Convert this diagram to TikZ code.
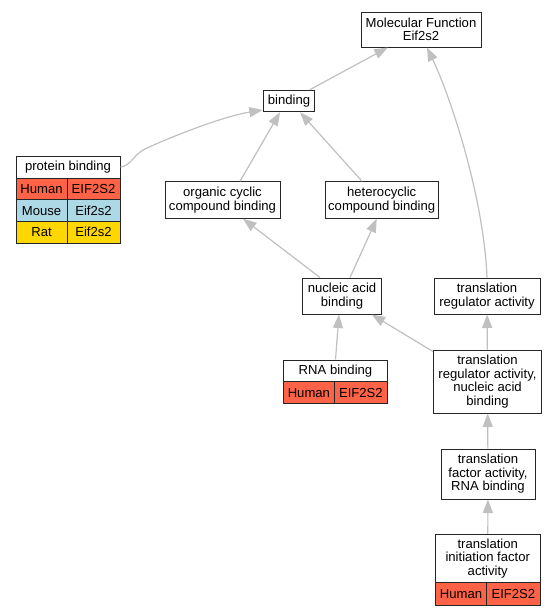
\documentclass[tikz,border=0pt]{standalone}
\usepackage{fontspec}
\setmainfont{Liberation Sans}
\usetikzlibrary{arrows.meta}
\definecolor{gohuman}{RGB}{255, 99, 71}
\definecolor{gomouse}{RGB}{173, 216, 230}
\definecolor{gorat}{RGB}{255, 215, 0}
\definecolor{goedge}{RGB}{192, 192, 192}
\newcommand{\gofont}{\fontsize{13.1}{13.6}\selectfont}

\begin{document}
\begin{tikzpicture}[x=1pt,y=-1pt,
    term/.style={draw=black!85, line width=1pt, fill=white, align=center, inner sep=1pt, font=\gofont},
    cell/.style={term, fill=#1},
    edge/.style={draw=goedge, line width=1.2pt, -{Triangle[length=13.5pt,width=10pt]}}]
\fill[white] (0,0) rectangle (559,616);
\useasboundingbox (0,0) rectangle (559,616);

% GO terms
\node[term, minimum width=120pt, minimum height=35pt] (mf) at (421,29.5) {Molecular Function\\Eif2s2};
\node[term, minimum width=51.5pt, minimum height=21.5pt] (bind) at (289,101) {binding};
\node[term, minimum width=115pt, minimum height=36.5pt] (oc) at (222.5,200) {organic cyclic\\compound binding};
\node[term, minimum width=113pt, minimum height=36.5pt] (hc) at (381.7,200) {heterocyclic\\compound binding};
\node[term, minimum width=79pt, minimum height=36pt] (nab) at (342,296) {nucleic acid\\binding};
\node[term, minimum width=106pt, minimum height=36pt] (tra) at (487,296) {translation\\regulator activity};
\node[term, minimum width=108pt, minimum height=63pt] (tranab) at (487.5,381.5) {translation\\regulator activity,\\nucleic acid\\binding};
\node[term, minimum width=94pt, minimum height=50pt] (tfa) at (488,474) {translation\\factor activity,\\RNA binding};

% terms with gene tables
\node[term, minimum width=104pt, minimum height=22pt] (pbh) at (68,167) {protein binding};
\foreach \sp/\gene/\col/\y in {Human/EIF2S2/gohuman/189, Mouse/Eif2s2/gomouse/210.7, Rat/Eif2s2/gorat/232.3} {
    \node[cell=\col, minimum width=51pt, minimum height=21.7pt] (pb-\sp) at (41.5,\y) {\sp};
    \node[cell=\col, minimum width=53pt, minimum height=21.7pt] (pb-\sp-gene) at (93.5,\y) {\gene};
}
\node[term, minimum width=104pt, minimum height=22pt] (rnah) at (335.5,371) {RNA binding};
\node[cell=gohuman, minimum width=50.8pt, minimum height=21.5pt] (rna-Human) at (308.9,392.7) {Human};
\node[cell=gohuman, minimum width=53.2pt, minimum height=21.5pt] (rna-Human-gene) at (360.9,392.7) {EIF2S2};
\node[term, minimum width=104.5pt, minimum height=48pt] (tifah) at (487.75,558.3) {translation\\initiation factor\\activity};
\node[cell=gohuman, minimum width=51.2pt, minimum height=22.7pt] (tifa-Human) at (461.1,593.7) {Human};
\node[cell=gohuman, minimum width=53.3pt, minimum height=22.7pt] (tifa-Human-gene) at (513.4,593.7) {EIF2S2};

% is_a links
\draw[edge] (bind) -- (mf);
\draw[edge] (tra.north) .. controls (484,200) and (452,100) .. ([xshift=6pt]mf.south);
\draw[edge] (pbh.east) .. controls (131,166) and (134,154) .. (145,149)
    .. controls (175,135) and (225,116) .. ([yshift=-9pt]bind.west);
\draw[edge] ([xshift=17.5pt]oc.north) -- ([xshift=-9pt]bind.south);
\draw[edge] ([xshift=-19.7pt]hc.north) -- ([xshift=11pt]bind.south);
\draw[edge] ([xshift=-22pt]nab.north) -- ([xshift=20.5pt]oc.south);
\draw[edge] ([xshift=8pt]nab.north) -- ([xshift=-5pt]hc.south);
\draw[edge] (rnah.north) -- ([xshift=-3pt]nab.south);
\draw[edge] ([yshift=-2pt]tranab.north west) -- ([xshift=29.7pt]nab.south);
\foreach \from/\to in {tranab/tra, tfa/tranab, tifah/tfa}
    \draw[edge] (\from) -- (\to);
\end{tikzpicture}
\end{document}
